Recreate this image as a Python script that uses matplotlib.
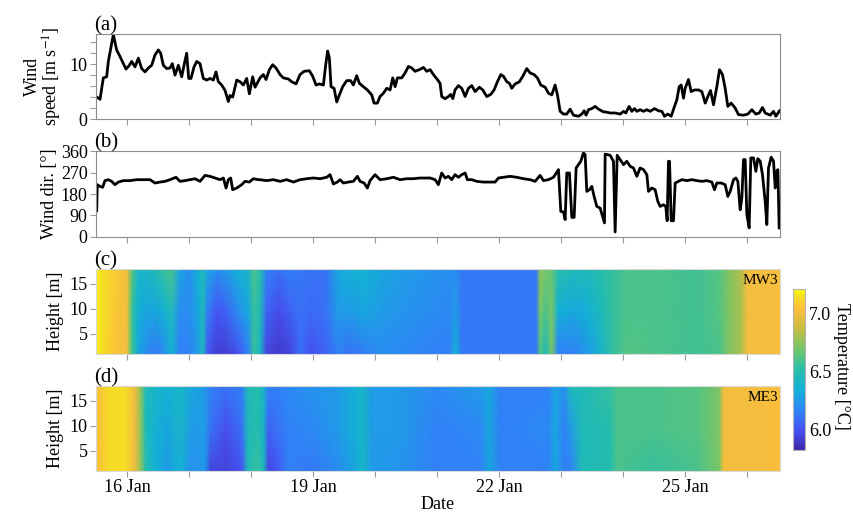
import numpy as np
import matplotlib
matplotlib.use('Agg')
import matplotlib.pyplot as plt
from matplotlib.colors import LinearSegmentedColormap

# time axis in days of January
t_ws = [15.511, 15.565, 15.618, 15.672, 15.699, 15.780, 15.833, 15.887, 15.941, 15.984,
        16.038, 16.075, 16.129, 16.183, 16.237, 16.290, 16.344, 16.398, 16.452, 16.505,
        16.543, 16.586, 16.640, 16.694, 16.731, 16.774, 16.828, 16.882, 16.925, 16.962,
        16.995, 17.032, 17.081, 17.124, 17.177, 17.231, 17.285, 17.339, 17.392, 17.435,
        17.473, 17.527, 17.581, 17.634, 17.661, 17.704, 17.769, 17.823, 17.876, 17.930,
        17.973, 18.027, 18.065, 18.145, 18.199, 18.242, 18.296, 18.349, 18.403, 18.468,
        18.521, 18.602, 18.656, 18.726, 18.790, 18.855, 18.941, 18.994, 19.048, 19.102,
        19.167, 19.204, 19.236, 19.263, 19.290, 19.339, 19.382, 19.425, 19.478, 19.543,
        19.607, 19.650, 19.704, 19.747, 19.812, 19.876, 19.946, 19.984, 20.037, 20.080,
        20.134, 20.188, 20.242, 20.285, 20.323, 20.360, 20.430, 20.484, 20.538, 20.591,
        20.645, 20.715, 20.780, 20.833, 20.887, 20.941, 21.005, 21.048, 21.075, 21.129,
        21.183, 21.220, 21.253, 21.290, 21.344, 21.398, 21.452, 21.505, 21.559, 21.613,
        21.683, 21.736, 21.801, 21.866, 21.919, 21.973, 22.027, 22.070, 22.124, 22.167,
        22.204, 22.258, 22.328, 22.382, 22.446, 22.500, 22.565, 22.618, 22.672, 22.742,
        22.796, 22.849, 22.903, 22.941, 22.984, 23.038, 23.091, 23.145, 23.199, 23.280,
        23.333, 23.371, 23.403, 23.441, 23.495, 23.548, 23.602, 23.683, 23.710, 23.791,
        23.871, 23.952, 24.006, 24.043, 24.097, 24.140, 24.183, 24.221, 24.275, 24.328,
        24.382, 24.436, 24.506, 24.570, 24.624, 24.667, 24.721, 24.775, 24.828, 24.866,
        24.904, 24.936, 24.973, 25.000, 25.054, 25.097, 25.151, 25.215, 25.269, 25.323,
        25.377, 25.409, 25.457, 25.511, 25.554, 25.602, 25.645, 25.688, 25.742, 25.807,
        25.860, 25.941, 26.011, 26.075, 26.140, 26.194, 26.247, 26.290, 26.371, 26.425,
        26.462, 26.522]
ws = [4.0, 3.6, 7.5, 7.7, 10.5, 15.4, 12.6, 11.4, 10.1, 9.1,
      9.8, 10.5, 9.5, 11.1, 9.2, 8.6, 9.3, 9.8, 11.7, 12.6,
      12.0, 9.8, 9.2, 9.3, 10.1, 8.0, 9.8, 7.7, 10.1, 12.0,
      7.4, 7.4, 9.5, 10.5, 10.1, 7.4, 7.1, 7.4, 7.1, 8.6,
      6.8, 6.2, 5.2, 3.2, 4.3, 4.0, 7.1, 6.8, 6.2, 7.4,
      4.6, 7.7, 5.8, 7.5, 8.1, 7.2, 9.0, 9.9, 9.3, 8.1,
      7.5, 7.3, 6.8, 6.4, 8.1, 8.7, 8.8, 7.8, 6.2, 6.4,
      6.2, 9.9, 12.4, 11.1, 5.9, 5.6, 3.1, 4.4, 5.9, 7.0,
      7.0, 6.2, 7.9, 6.5, 5.9, 5.3, 4.4, 2.9, 2.9, 4.1,
      4.7, 5.6, 5.3, 7.5, 5.9, 7.5, 7.5, 8.4, 9.6, 9.3,
      8.7, 9.0, 9.4, 8.7, 9.0, 8.1, 7.2, 6.5, 4.1, 3.7,
      4.1, 4.5, 3.7, 5.3, 6.1, 5.6, 4.1, 5.6, 6.1, 5.0,
      5.8, 5.3, 4.1, 4.5, 5.3, 6.8, 8.1, 7.8, 6.8, 6.5,
      5.6, 6.4, 6.8, 7.8, 9.2, 8.4, 8.1, 7.5, 6.2, 5.8,
      4.7, 4.4, 6.2, 4.4, 1.4, 0.9, 0.9, 1.8, 0.7, 0.5,
      0.9, 1.5, 0.7, 1.7, 1.9, 2.3, 1.8, 1.3, 1.3, 1.1,
      1.1, 0.9, 1.4, 1.1, 2.3, 1.4, 1.9, 1.4, 1.7, 1.4,
      1.7, 1.4, 1.9, 1.5, 1.4, 0.5, 0.9, 0.5, 2.3, 3.5,
      5.9, 6.2, 3.8, 5.6, 7.2, 5.0, 5.3, 5.3, 5.0, 2.9,
      4.4, 5.2, 2.6, 5.9, 9.0, 8.1, 5.6, 2.3, 2.9, 2.0,
      0.8, 0.7, 0.9, 1.7, 0.9, 1.1, 2.1, 1.1, 0.7, 1.4,
      0.5, 1.5]

t_wd = [15.511, 15.521, 15.564, 15.607, 15.645, 15.699, 15.752, 15.806, 15.860, 15.941,
        16.048, 16.156, 16.263, 16.371, 16.451, 16.532, 16.613, 16.693, 16.790, 16.855,
        16.935, 17.016, 17.097, 17.177, 17.258, 17.339, 17.419, 17.500, 17.554, 17.597,
        17.634, 17.672, 17.704, 17.769, 17.849, 17.903, 17.973, 18.037, 18.118, 18.145,
        18.253, 18.360, 18.468, 18.575, 18.683, 18.790, 18.898, 19.005, 19.113, 19.220,
        19.274, 19.328, 19.392, 19.435, 19.489, 19.570, 19.650, 19.715, 19.758, 19.823,
        19.876, 19.919, 20.000, 20.080, 20.188, 20.296, 20.403, 20.511, 20.618, 20.726,
        20.833, 20.887, 20.968, 21.021, 21.075, 21.129, 21.183, 21.236, 21.290, 21.344,
        21.398, 21.452, 21.489, 21.559, 21.640, 21.747, 21.855, 21.935, 21.989, 22.070,
        22.177, 22.285, 22.392, 22.500, 22.581, 22.661, 22.715, 22.796, 22.876, 22.957,
        22.995, 23.038, 23.065, 23.091, 23.134, 23.172, 23.210, 23.242, 23.280, 23.317,
        23.360, 23.387, 23.414, 23.457, 23.495, 23.532, 23.575, 23.629, 23.672, 23.699,
        23.710, 23.791, 23.844, 23.871, 23.904, 23.952, 24.006, 24.059, 24.113, 24.167,
        24.221, 24.274, 24.328, 24.382, 24.409, 24.463, 24.516, 24.559, 24.597, 24.651,
        24.688, 24.710, 24.731, 24.748, 24.775, 24.812, 24.839, 24.893, 24.946, 25.027,
        25.108, 25.188, 25.269, 25.350, 25.430, 25.473, 25.511, 25.581, 25.645, 25.688,
        25.726, 25.780, 25.817, 25.850, 25.887, 25.914, 25.941, 25.968, 25.995, 26.032,
        26.059, 26.102, 26.140, 26.172, 26.210, 26.247, 26.290, 26.317, 26.344, 26.387,
        26.425, 26.452, 26.473, 26.495, 26.516]
wd = [110, 219, 212, 208, 236, 240, 233, 219, 230, 236,
      236, 240, 240, 240, 226, 230, 233, 240, 250, 233,
      236, 240, 244, 233, 258, 254, 247, 240, 247, 205,
      240, 247, 198, 205, 219, 233, 230, 244, 240, 240,
      236, 240, 233, 240, 230, 240, 244, 247, 244, 250,
      261, 222, 230, 240, 226, 230, 233, 254, 233, 226,
      205, 236, 261, 240, 244, 250, 240, 244, 244, 247,
      247, 247, 240, 219, 268, 247, 254, 240, 261, 250,
      261, 268, 240, 240, 233, 230, 230, 230, 247, 250,
      254, 250, 244, 240, 233, 258, 236, 240, 250, 282,
      107, 105, 73, 268, 268, 82, 82, 289, 303, 317,
      352, 345, 191, 198, 212, 170, 128, 121, 82, 59,
      347, 342, 317, 21, 342, 324, 303, 317, 296, 289,
      254, 289, 282, 261, 191, 205, 198, 149, 128, 135,
      128, 68, 317, 317, 68, 68, 226, 233, 240, 236,
      240, 236, 233, 236, 230, 198, 226, 226, 219, 170,
      191, 240, 247, 233, 114, 163, 324, 324, 93, 38,
      331, 331, 275, 328, 317, 261, 149, 52, 289, 334,
      317, 205, 275, 282, 38]

# water temperature, sampled at three heights
z_lev = [1, 9.5, 18]

t_mw3 = [15.50, 15.62, 15.80, 16.00, 16.05, 16.10, 16.18, 16.30, 16.45, 16.60,
         16.72, 16.85, 17.00, 17.15, 17.22, 17.30, 17.45, 17.60, 17.80, 17.95,
         18.05, 18.15, 18.25, 18.45, 18.65, 18.80, 18.95, 19.20, 19.40, 19.60,
         19.85, 20.10, 20.50, 20.90, 21.20, 21.30, 21.40, 22.00, 22.60, 22.66,
         22.75, 22.85, 22.95, 23.20, 23.45, 23.65, 23.85, 24.05, 24.60, 25.20,
         25.55, 25.70, 25.90, 26.00, 26.53]
mw3_bot = [7.17, 7.14, 7.06, 7.00, 6.70, 6.55, 6.30, 6.20, 6.12, 6.20,
           6.35, 6.15, 6.15, 6.25, 6.45, 6.00, 5.92, 5.92, 6.00, 6.15,
           6.55, 6.40, 5.95, 5.90, 5.95, 6.10, 5.98, 6.05, 6.15, 6.10,
           6.15, 6.20, 6.18, 6.15, 6.15, 6.35, 6.12, 6.12, 6.12, 6.60,
           6.45, 6.70, 6.15, 6.15, 6.25, 6.40, 6.55, 6.62, 6.60, 6.58,
           6.60, 6.72, 6.80, 7.00, 7.02]
mw3_mid = [7.17, 7.14, 7.07, 7.00, 6.72, 6.50, 6.35, 6.30, 6.30, 6.35,
           6.45, 6.20, 6.20, 6.30, 6.45, 6.15, 6.00, 6.05, 6.20, 6.30,
           6.55, 6.45, 6.05, 5.97, 6.05, 6.10, 6.08, 6.10, 6.25, 6.25,
           6.30, 6.25, 6.22, 6.20, 6.18, 6.25, 6.12, 6.12, 6.12, 6.70,
           6.60, 6.70, 6.35, 6.30, 6.35, 6.45, 6.55, 6.60, 6.60, 6.58,
           6.62, 6.72, 6.80, 7.00, 7.02]
mw3_top = [7.17, 7.14, 7.08, 7.00, 6.75, 6.60, 6.40, 6.40, 6.45, 6.55,
           6.60, 6.30, 6.20, 6.35, 6.45, 6.30, 6.20, 6.25, 6.35, 6.40,
           6.60, 6.50, 6.15, 6.10, 6.15, 6.12, 6.10, 6.10, 6.30, 6.35,
           6.35, 6.30, 6.25, 6.22, 6.20, 6.20, 6.12, 6.12, 6.12, 6.75,
           6.70, 6.65, 6.50, 6.45, 6.45, 6.50, 6.55, 6.60, 6.60, 6.58,
           6.62, 6.72, 6.82, 7.00, 7.02]

t_me3 = [15.50, 15.70, 15.95, 16.12, 16.22, 16.30, 16.45, 16.65, 16.85, 17.05,
         17.25, 17.35, 17.60, 17.85, 17.95, 18.10, 18.20, 18.28, 18.42, 18.60,
         19.00, 19.40, 19.70, 19.80, 19.95, 20.40, 21.00, 21.70, 21.85, 22.00,
         22.80, 22.90, 23.05, 23.15, 23.33, 23.80, 23.90, 24.50, 25.20, 25.55,
         25.62, 26.53]
me3_bot = [7.03, 7.13, 7.15, 7.00, 6.75, 6.50, 6.35, 6.25, 6.35, 6.20,
           6.25, 5.95, 5.93, 6.00, 6.45, 6.55, 6.45, 5.95, 6.00, 6.15,
           6.12, 6.20, 6.30, 6.40, 6.25, 6.22, 6.15, 6.15, 6.30, 6.15,
           6.15, 6.30, 6.15, 6.15, 6.45, 6.50, 6.60, 6.55, 6.60, 6.70,
           7.00, 7.02]
me3_mid = [7.03, 7.13, 7.15, 7.00, 6.75, 6.45, 6.35, 6.30, 6.40, 6.25,
           6.25, 6.10, 5.98, 6.10, 6.45, 6.50, 6.40, 6.05, 6.10, 6.15,
           6.18, 6.25, 6.35, 6.40, 6.25, 6.25, 6.15, 6.18, 6.30, 6.15,
           6.18, 6.30, 6.15, 6.25, 6.45, 6.50, 6.60, 6.60, 6.62, 6.72,
           7.00, 7.02]
me3_top = [7.03, 7.13, 7.15, 7.00, 6.75, 6.45, 6.40, 6.35, 6.40, 6.30,
           6.25, 6.15, 6.10, 6.15, 6.45, 6.50, 6.40, 6.15, 6.15, 6.18,
           6.22, 6.25, 6.35, 6.40, 6.25, 6.25, 6.18, 6.25, 6.30, 6.15,
           6.15, 6.30, 6.20, 6.45, 6.45, 6.55, 6.60, 6.60, 6.62, 6.72,
           7.00, 7.02]

day_ticks = list(range(16, 27))
day_lbls = {16: '16 Jan', 19: '19 Jan', 22: '22 Jan', 25: '25 Jan'}

# parula-like colormap
parula = LinearSegmentedColormap.from_list('parula', [
    (0.000, (0.2422, 0.1504, 0.6603)),
    (0.125, (0.2810, 0.3228, 0.9579)),
    (0.250, (0.1786, 0.5289, 0.9682)),
    (0.375, (0.0689, 0.6948, 0.8394)),
    (0.500, (0.1540, 0.7460, 0.6640)),
    (0.625, (0.4420, 0.7800, 0.4200)),
    (0.750, (0.7720, 0.7400, 0.2600)),
    (0.875, (0.9900, 0.7450, 0.2400)),
    (0.950, (0.9600, 0.8600, 0.1500)),
    (1.000, (0.9763, 0.9831, 0.0538))])

vmin, vmax = 5.82, 7.21
xlim = (15.5, 26.53)
spine_c = '0.55'

plt.rcParams['font.family'] = ['Liberation Serif', 'DejaVu Serif']
plt.rcParams['mathtext.fontset'] = 'stix'
plt.rcParams['font.size'] = 13


def style_ax(ax, label):
    ax.set_xlim(xlim)
    ax.set_xticks(day_ticks)
    ax.set_xticklabels([])
    ax.tick_params(direction='out', color='0.6', length=4, width=0.8,
                   labelsize=13, pad=2)
    for s in ax.spines.values():
        s.set_color(spine_c)
        s.set_linewidth(0.8)
    ax.text(-0.002, 0.985, label, transform=ax.transAxes, ha='left',
            va='bottom', fontsize=15)


def heat(ax, t, bot, mid, top, vmin, vmax):
    T, Z = np.meshgrid(t, z_lev)
    C = np.array([bot, mid, top])
    m = ax.pcolormesh(T, Z, C, cmap=parula, vmin=vmin, vmax=vmax,
                      shading='gouraud', rasterized=True)
    ax.set_ylim(1, 18)
    ax.set_yticks([5, 10, 15])
    return m


def plotfig():
    fig = plt.figure(figsize=(8.54, 5.17), dpi=100)
    L, W = 0.1124, 0.801
    ax1 = fig.add_axes([L, 0.7698, W, 0.1644])
    ax2 = fig.add_axes([L, 0.5416, W, 0.1663])
    ax3 = fig.add_axes([L, 0.3153, W, 0.1644])
    ax4 = fig.add_axes([L, 0.0890, W, 0.1644])
    cax = fig.add_axes([0.9286, 0.1296, 0.014, 0.311])

    ax1.plot(t_ws, ws, color='k', lw=2)
    ax1.set_ylim(0, 15.5)
    ax1.set_yticks(range(0, 16, 2))
    ax1.set_yticklabels(['0', '', '', '', '', '10', '', ''])
    ax1.set_ylabel('Wind\nspeed [m s$^{-1}$]', linespacing=1.0)
    style_ax(ax1, '(a)')

    ax2.plot(t_wd, wd, color='k', lw=2)
    ax2.set_ylim(0, 360)
    ax2.set_yticks([0, 90, 180, 270, 360])
    ax2.set_ylabel('Wind dir. [°]', labelpad=2)
    style_ax(ax2, '(b)')

    m = heat(ax3, t_mw3, mw3_bot, mw3_mid, mw3_top, vmin, vmax)
    ax3.set_ylabel('Height [m]')
    style_ax(ax3, '(c)')
    for s in ax3.spines.values():
        s.set_color('0.85')
    ax3.text(0.997, 0.94, 'MW3', transform=ax3.transAxes, ha='right',
             va='top', fontsize=11)

    heat(ax4, t_me3, me3_bot, me3_mid, me3_top, vmin, vmax)
    ax4.set_ylabel('Height [m]')
    style_ax(ax4, '(d)')
    for s in ax4.spines.values():
        s.set_color('0.85')
    ax4.set_xticklabels([day_lbls.get(d, '') for d in day_ticks])
    ax4.set_xlabel('Date', labelpad=0)
    ax4.text(0.997, 0.94, 'ME3', transform=ax4.transAxes, ha='right',
             va='top', fontsize=11)

    cb = fig.colorbar(m, cax=cax)
    cb.set_ticks([6.0, 6.5, 7.0])
    cb.set_ticklabels(['6.0', '6.5', '7.0'])
    cb.outline.set_edgecolor('0.7')
    cb.ax.tick_params(labelsize=13, length=0, pad=3)
    fig.text(0.985, 0.292, 'Temperature [°C]', rotation=270,
             ha='center', va='center', fontsize=13)

    fig.savefig('out.png', dpi=100)


if __name__ == '__main__':
    plotfig()
